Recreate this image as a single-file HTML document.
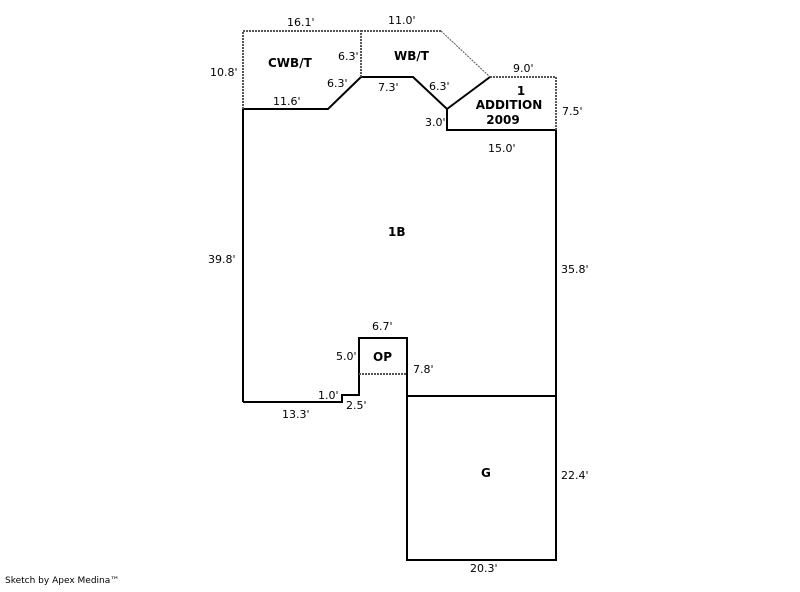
<!DOCTYPE html>
<html><head><style>body{margin:0;background:#fff}svg text{font-family:"DejaVu Sans",Verdana,sans-serif;font-size:11px;fill:#000}.b{font-weight:bold;font-size:12px}</style></head><body>
<svg width="800" height="587" xmlns="http://www.w3.org/2000/svg">
<g fill="none" stroke="#000" stroke-width="2">
<polyline points="243,402 243,109 328,109 361,77 413,77 447,109 490,77"/>
<polyline points="447,109 447,130 556,130 556,560 407,560 407,338 359,338 359,395 342,395 342,402 243,402"/>
<line x1="407" y1="396" x2="556" y2="396"/>
</g>
<g fill="none" stroke="#555" stroke-width="2" stroke-dasharray="2,1">
<polyline points="243,109 243,31 361,31 361,77"/>
<line x1="361" y1="31" x2="441" y2="31"/>
<polyline points="490,77 556,77 556,130"/>
<line x1="359" y1="374" x2="407" y2="374"/>
</g>
<line x1="441" y1="31" x2="490" y2="77" stroke="#555" stroke-width="1" stroke-dasharray="2,1"/>
<text x="287" y="26">16.1'</text><text x="388" y="24">11.0'</text>
<text x="210" y="76">10.8'</text><text x="338" y="60">6.3'</text><text x="327" y="87">6.3'</text>
<text x="273" y="105">11.6'</text><text x="378" y="91">7.3'</text><text x="429" y="90">6.3'</text>
<text x="513" y="72">9.0'</text><text x="425" y="126">3.0'</text><text x="562" y="115">7.5'</text>
<text x="488" y="152">15.0'</text><text x="208" y="263">39.8'</text><text x="561" y="273">35.8'</text>
<text x="372" y="330">6.7'</text><text x="336" y="360">5.0'</text><text x="413" y="373">7.8'</text>
<text x="318" y="399">1.0'</text><text x="346" y="409">2.5'</text><text x="282" y="418">13.3'</text>
<text x="561" y="479">22.4'</text><text x="470" y="572">20.3'</text>
<text class="b" x="268" y="67">CWB/T</text><text class="b" x="394" y="60">WB/T</text>
<text class="b" x="521" y="95" text-anchor="middle">1</text><text class="b" x="509" y="109" text-anchor="middle">ADDITION</text><text class="b" x="503" y="124" text-anchor="middle">2009</text>
<text class="b" x="388" y="236">1B</text><text class="b" x="373" y="361">OP</text><text class="b" x="481" y="477">G</text>
<text x="5" y="583" style="font-size:9px">Sketch by Apex Medina™</text>
</svg></body></html>
